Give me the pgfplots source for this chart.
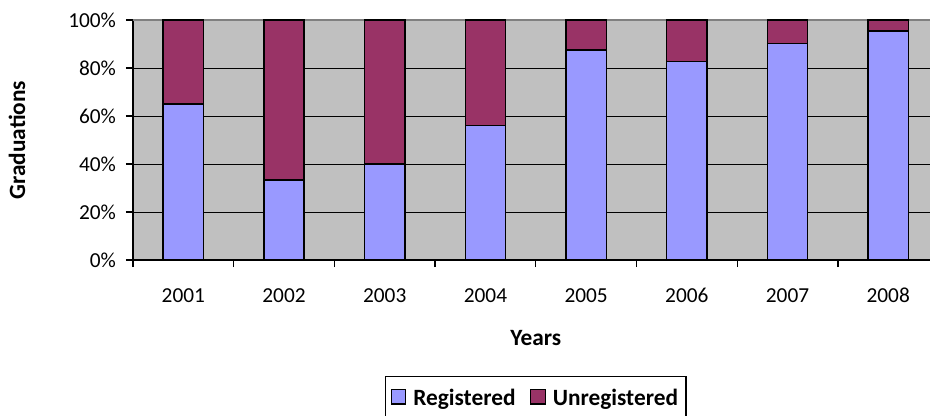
\documentclass[border=0pt]{standalone}
\usepackage{pgfplots}
\pgfplotsset{compat=1.18}
\usepackage{fontspec}
\setmainfont{Carlito}
\definecolor{reg}{HTML}{9999FF}
\definecolor{unreg}{HTML}{993366}
\definecolor{bg}{HTML}{C0C0C0}
\begin{document}
\begin{tikzpicture}[font=\fontsize{16}{18}\selectfont]
\begin{axis}[
  scale only axis, width=597.75pt, height=180pt,
  ybar stacked, bar width=0.4,
  xmin=-0.5, xmax=7.415, ymin=0, ymax=100,
  axis x line*=bottom, axis y line*=left,
  axis line style={-, line width=1pt, black},
  axis background/.style={fill=bg},
  tick align=outside,
  major tick length=5.25pt, minor tick length=5.25pt,
  tick style={black, line width=1pt},
  xtick={0,...,7}, xticklabels={2001,2002,2003,2004,2005,2006,2007,2008},
  major x tick style={draw=none},
  minor xtick={-0.5,0.5,1.5,2.5,3.5,4.5,5.5,6.5},
  ytick={0,20,40,60,80,100},
  yticklabels={0\%,20\%,40\%,60\%,80\%,100\%},
  ticklabel style={font=\fontsize{16}{18}\selectfont},
  xticklabel style={anchor=north, text height=12pt, text depth=0pt, yshift=-11pt},
  yticklabel style={xshift=-4pt},
  ymajorgrids, grid style={black, line width=0.75pt},
  xlabel={\textbf{Years}}, ylabel={\textbf{Graduations}},
  every axis x label/.style={at={(axis description cs:0.5053,-0.325)}, anchor=center, font=\fontsize{17.5}{20}\selectfont},
  every axis y label/.style={at={(axis description cs:-0.1455,0.5)}, rotate=90, anchor=center, font=\fontsize{17.5}{20}\selectfont},
  legend columns=2,
  legend style={at={(axis description cs:0.5053,-0.575)}, anchor=center, draw=black, line width=1pt,
    font=\fontsize{17.5}{20}\selectfont\bfseries, inner ysep=7pt, inner xsep=4pt,
    /tikz/every even column/.append style={column sep=9pt}},
  legend image code/.code={\draw[#1, line width=0.8pt] (0pt,-4.5pt) rectangle (11pt,6.5pt); \path (14pt,0pt);},
  clip=false,
]
\addplot[fill=reg, draw=black, line width=1.1pt] coordinates {(0,65) (1,33.3) (2,40) (3,56) (4,87.5) (5,82.6) (6,90.1) (7,95.4)};
\addplot[fill=unreg, draw=black, line width=1.1pt] coordinates {(0,35) (1,66.7) (2,60) (3,44) (4,12.5) (5,17.4) (6,9.9) (7,4.6)};
\legend{Registered, Unregistered}
\draw[gray, line width=1.5pt] (rel axis cs:0,1) -- (rel axis cs:1,1);
\end{axis}
\pgfresetboundingbox
\path[use as bounding box] (current axis.south west) ++(-99.75pt,-116.25pt) rectangle ++(697.5pt,311.25pt);
\end{tikzpicture}
\end{document}
